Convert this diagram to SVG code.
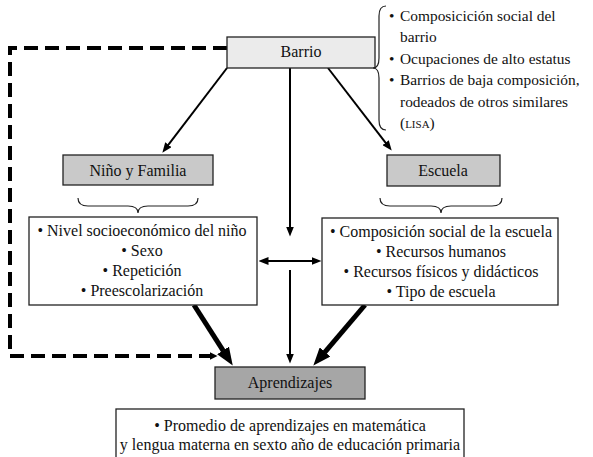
<svg xmlns="http://www.w3.org/2000/svg" width="593" height="457" viewBox="0 0 593 457">
<style>
.t text{font-size:16px;fill:#111}
.t .s{font-size:15.4px}
.box{stroke:#222;stroke-width:1.3}
.c{text-anchor:middle}
.thin{stroke:#000;stroke-width:2;fill:none}
.thick{stroke:#000;stroke-width:5;fill:none}
.dash{stroke:#000;stroke-width:4;fill:none;stroke-dasharray:14 7}
.brace{stroke:#222;stroke-width:1.2;fill:none}
</style>
<defs>
<marker id="ah" viewBox="0 0 10 8" refX="0.5" refY="4" markerWidth="10" markerHeight="8" markerUnits="userSpaceOnUse" orient="auto-start-reverse"><path d="M0,0 L10,4 L0,8 z" fill="#000"/></marker>
<marker id="ahT" viewBox="0 0 18 14" refX="0.5" refY="7" markerWidth="18" markerHeight="14" markerUnits="userSpaceOnUse" orient="auto"><path d="M0,0 L18,7 L0,14 z" fill="#000"/></marker>
<marker id="ahD" viewBox="0 0 8 8" refX="0.5" refY="4" markerWidth="8" markerHeight="8" markerUnits="userSpaceOnUse" orient="auto"><path d="M0,0 L8,4 L0,8 z" fill="#000"/></marker>
</defs>
<rect width="593" height="457" fill="#fff"/>
<g id="connectors">
<path class="dash" d="M227,48 H10 V356 H210" marker-end="url(#ahD)"/>
<line class="thin" x1="227" y1="68" x2="168.1" y2="145.1" marker-end="url(#ah)"/>
<line class="thin" x1="328" y1="68" x2="385.9" y2="143.1" marker-end="url(#ah)"/>
<line class="thin" x1="290" y1="68" x2="290" y2="227" marker-end="url(#ah)"/>
<line class="thin" x1="268" y1="261" x2="312" y2="261" marker-start="url(#ah)" marker-end="url(#ah)"/>
<line class="thin" x1="290" y1="270" x2="290" y2="354" marker-end="url(#ah)"/>
<line class="thick" x1="194" y1="305" x2="223.3" y2="350.8" marker-end="url(#ahT)"/>
<line class="thick" x1="365" y1="305" x2="324.7" y2="352.3" marker-end="url(#ahT)"/>
</g>
<g class="t" font-family="'Liberation Serif', 'Times New Roman', 'DejaVu Serif', serif">
<g id="barrio">
<rect class="box" x="227" y="37" width="148" height="31" fill="#ebebeb"/>
<text class="c" x="301" y="57">Barrio</text>
</g>
<g id="barrio-list">
<path class="brace" d="M386,6 Q379,6 379,16 L379,58 Q379,68 373,68 Q379,68 379,78 L379,120 Q379,130 386,130"/>
<text class="s" x="389" y="21">•</text>
<text class="s" x="400" y="21">Composicición social del</text>
<text class="s" x="400" y="42">barrio</text>
<text class="s" x="389" y="64">•</text>
<text class="s" x="400" y="64">Ocupaciones de alto estatus</text>
<text class="s" x="389" y="85">•</text>
<text class="s" x="400" y="85">Barrios de baja composición,</text>
<text class="s" x="400" y="107">rodeados de otros similares</text>
<text class="s" x="400" y="128">(<tspan font-size="11">LISA</tspan>)</text>
</g>
<g id="nino">
<rect class="box" x="63" y="155" width="150" height="30" fill="#c9c9c9"/>
<text class="c" x="138" y="176">Niño y Familia</text>
</g>
<g id="nino-list">
<path class="brace" d="M78,198 Q78,206 88,206 L128,206 Q138,206 138,213 Q138,206 148,206 L188,206 Q198,206 198,198"/>
<rect class="box" x="29" y="217" width="228" height="88" fill="#fff"/>
<text class="c" x="142" y="236">• Nivel socioeconómico del niño</text>
<text class="c" x="142" y="256">• Sexo</text>
<text class="c" x="142" y="276">• Repetición</text>
<text class="c" x="142" y="296">• Preescolarización</text>
</g>
<g id="escuela">
<rect class="box" x="387" y="155" width="113" height="31" fill="#c9c9c9"/>
<text class="c" x="443" y="176">Escuela</text>
</g>
<g id="escuela-list">
<path class="brace" d="M380,198 Q380,206 390,206 L431,206 Q441,206 441,213 Q441,206 451,206 L492,206 Q502,206 502,198"/>
<rect class="box" x="322" y="218" width="236" height="87" fill="#fff"/>
<text class="c" x="441" y="237">• Composición social de la escuela</text>
<text class="c" x="441" y="257">• Recursos humanos</text>
<text class="c" x="441" y="277">• Recursos físicos y didácticos</text>
<text class="c" x="441" y="297">• Tipo de escuela</text>
</g>
<g id="aprendizajes">
<rect class="box" x="215" y="367" width="150" height="32" fill="#a6a6a6"/>
<text class="c" x="290" y="388">Aprendizajes</text>
</g>
<g id="aprendizajes-list">
<rect class="box" x="116" y="409" width="348" height="60" fill="#fff"/>
<text class="c" x="290" y="431">• Promedio de aprendizajes en matemática</text>
<text class="c" x="290" y="450">y lengua materna en sexto año de educación primaria</text>
</g>
</g>
</svg>
